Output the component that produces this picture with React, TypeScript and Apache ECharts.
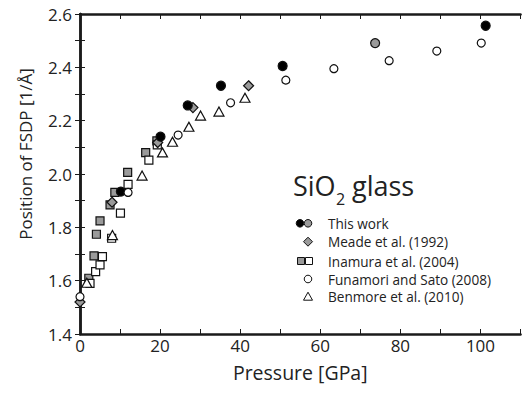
import React, { useEffect, useRef } from "react";
import * as echarts from "echarts";

const thisWorkBlack: number[][] = [
  [10.2, 1.934], [20.1, 2.14], [26.9, 2.257], [35.2, 2.331], [50.6, 2.405], [101.3, 2.556],
];
const thisWorkGray: number[][] = [[73.7, 2.491]];
const meade: number[][] = [
  [0, 1.52], [8.0, 1.894], [19.4, 2.118], [28.2, 2.249], [42.1, 2.331],
];
const inamuraFilled: number[][] = [
  [2.2, 1.609], [3.5, 1.693], [4.1, 1.774], [5.0, 1.824], [7.5, 1.884],
  [8.7, 1.931], [11.9, 2.006], [16.4, 2.08], [19.2, 2.124],
];
const inamuraOpen: number[][] = [
  [2.5, 1.59], [3.9, 1.634], [5.0, 1.659], [5.6, 1.69], [7.9, 1.759],
  [10.1, 1.853], [12.0, 1.961], [17.2, 2.052], [19.3, 2.109],
];
const funamori: number[][] = [
  [0, 1.54], [12.0, 1.931], [24.5, 2.146], [37.6, 2.267], [51.4, 2.352],
  [63.4, 2.395], [77.2, 2.425], [89.1, 2.461], [100.2, 2.491],
];
const benmore: number[][] = [
  [1.7, 1.592], [8.1, 1.771], [15.5, 1.994], [20.6, 2.081], [23.1, 2.121],
  [27.2, 2.177], [30.1, 2.219], [34.7, 2.234], [41.2, 2.286],
];
const legendLabels: string[] = [
  "This work",
  "Meade et al. (1992)",
  "Inamura et al. (2004)",
  "Funamori and Sato (2008)",
  "Benmore et al. (2010)",
];

const FONT = "'Open Sans', sans-serif";
const GRAY = "#9a9a9a";

export default function App() {
  const ref = useRef<HTMLDivElement>(null);
  useEffect(() => {
    if (!ref.current) return;
    const chart = echarts.init(ref.current, undefined, { renderer: "svg" });
    const axisLine = { show: true, lineStyle: { color: "#1a1a1a", width: 2.5 } };
    const tick = { show: true, inside: true, length: 5, lineStyle: { color: "#1a1a1a", width: 1 } };
    const sc = (name: string, data: number[][], symbol: string, size: any, fill: string, z: number) => ({
      type: "scatter",
      name,
      data,
      symbol,
      symbolSize: size,
      z,
      itemStyle: { color: fill, borderColor: "#111", borderWidth: 1.2, opacity: 1 },
      emphasis: { disabled: true },
    });
    const legY = [223.3, 241.7, 261, 279, 296.7];
    const mk = (o: any) => ({ ...o, z: 100 });
    const graphic: any[] = [
      { type: "text", x: 293, y: 185, style: { text: "SiO", fontFamily: FONT, fontSize: 27, fill: "#222", verticalAlign: "middle", align: "left" } },
      { type: "text", x: 336, y: 199, style: { text: "2", fontFamily: FONT, fontSize: 16, fill: "#222", verticalAlign: "middle", align: "left" } },
      { type: "text", x: 352, y: 185, style: { text: "glass", fontFamily: FONT, fontSize: 27, fill: "#222", verticalAlign: "middle", align: "left" } },
      mk({ type: "circle", shape: { cx: 300, cy: legY[0], r: 3.8 }, style: { fill: "#000", stroke: "#111", lineWidth: 1 } }),
      mk({ type: "circle", shape: { cx: 308, cy: legY[0], r: 3.8 }, style: { fill: GRAY, stroke: "#111", lineWidth: 1 } }),
      mk({ type: "polygon", shape: { points: [[308, legY[1] - 4.5], [312.5, legY[1]], [308, legY[1] + 4.5], [303.5, legY[1]]] }, style: { fill: GRAY, stroke: "#111", lineWidth: 1 } }),
      mk({ type: "rect", shape: { x: 297.5, y: legY[2] - 3.5, width: 7, height: 7 }, style: { fill: GRAY, stroke: "#111", lineWidth: 1 } }),
      mk({ type: "rect", shape: { x: 305.5, y: legY[2] - 3.5, width: 7, height: 7 }, style: { fill: "#fff", stroke: "#111", lineWidth: 1 } }),
      mk({ type: "circle", shape: { cx: 308, cy: legY[3], r: 3.8 }, style: { fill: "#fff", stroke: "#111", lineWidth: 1 } }),
      mk({ type: "polygon", shape: { points: [[308, legY[4] - 4.5], [312.5, legY[4] + 3.5], [303.5, legY[4] + 3.5]] }, style: { fill: "#fff", stroke: "#111", lineWidth: 1 } }),
      ...legendLabels.map((t, i) => ({
        type: "text",
        x: 328,
        y: legY[i],
        style: { text: t, fontFamily: FONT, fontSize: 13.6, fill: "#222", verticalAlign: "middle", align: "left" },
      })),
      {
        type: "text",
        x: 25,
        y: 154,
        rotation: Math.PI / 2,
        style: { text: "Position of FSDP [1/Å]", fontFamily: FONT, fontSize: 17, fill: "#222", verticalAlign: "middle", align: "center" },
      },
    ];
    chart.setOption({
      animation: false,
      backgroundColor: "#fff",
      grid: { left: 80, right: 4.5, top: 14, bottom: 59 },
      xAxis: [
        {
          type: "value", min: 0, max: 110, interval: 10,
          axisLine, axisTick: tick, splitLine: { show: false },
          axisLabel: {
            fontFamily: FONT, fontSize: 17, color: "#222", margin: 3,
            formatter: (v: number) => (Math.round(v) % 20 === 0 ? String(Math.round(v)) : ""),
          },
          name: "Pressure [GPa]", nameLocation: "middle", nameGap: 28,
          nameTextStyle: { fontFamily: FONT, fontSize: 19.5, color: "#222" },
        },
        {
          type: "value", min: 0, max: 110, interval: 10, position: "top",
          axisLine, axisTick: tick, splitLine: { show: false }, axisLabel: { show: false },
        },
      ],
      yAxis: [
        {
          type: "value", min: 1.4, max: 2.6, interval: 0.1,
          axisLine, axisTick: tick, splitLine: { show: false },
          axisLabel: {
            fontFamily: FONT, fontSize: 17, color: "#222", margin: 8,
            formatter: (v: number) => (Math.round(v * 10) % 2 === 0 ? v.toFixed(1) : ""),
          },
        },
        {
          type: "value", min: 1.4, max: 2.6, interval: 0.1, position: "right",
          axisLine, axisTick: tick, splitLine: { show: false }, axisLabel: { show: false },
        },
      ],
      series: [
        sc("Inamura filled", inamuraFilled, "rect", 8, GRAY, 2),
        sc("Inamura open", inamuraOpen, "rect", 8, "#fff", 3),
        sc("Meade", meade, "diamond", [10, 10], GRAY, 4),
        sc("This work", thisWorkBlack, "circle", 9, "#000", 5),
        sc("This work gray", thisWorkGray, "circle", 9, GRAY, 5),
        sc("Funamori", funamori, "circle", 8, "#fff", 6),
        sc("Benmore", benmore, "triangle", [10, 9], "#fff", 7),
      ],
      graphic,
    });
    return () => chart.dispose();
  }, []);
  return <div ref={ref} style={{ position: "fixed", left: 0, top: 0, width: 525, height: 393 }} />;
}
